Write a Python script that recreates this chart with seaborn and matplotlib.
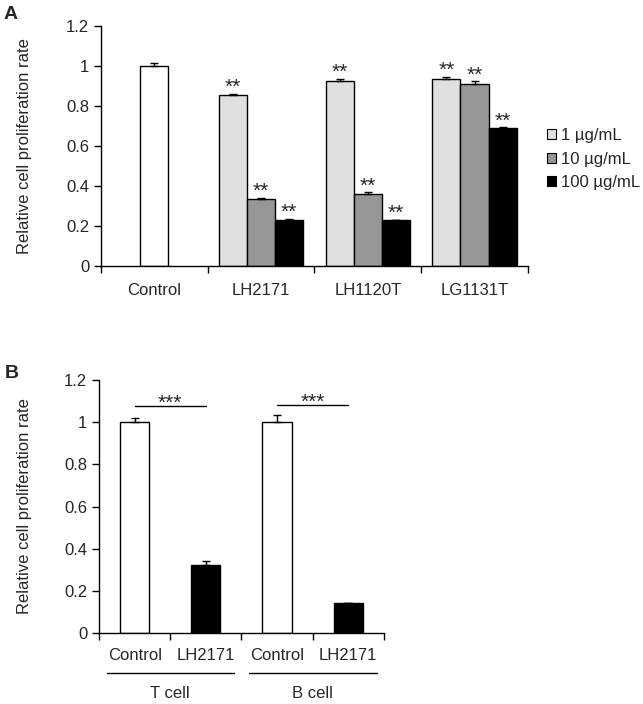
import matplotlib
matplotlib.use("Agg")
import matplotlib.pyplot as plt
from matplotlib.patches import Patch
import numpy as np
import pandas as pd
import seaborn as sns

# ---- data: panel A ----
groups_a = ["Control", "LH2171", "LH1120T", "LG1131T"]
treatments = ["LH2171", "LH1120T", "LG1131T"]
doses = ["1 µg/mL", "10 µg/mL", "100 µg/mL"]
control_mean = [1.0]
control_err = [0.017]
dose1_mean = [0.855, 0.927, 0.933]
dose1_err = [0.006, 0.010, 0.013]
dose10_mean = [0.337, 0.360, 0.912]
dose10_err = [0.005, 0.008, 0.013]
dose100_mean = [0.232, 0.229, 0.688]
dose100_err = [0.004, 0.003, 0.006]
dose_colors = ["#e0e0e0", "#969696", "#000000"]

# ---- data: panel B ----
keys_b = ["T_Control", "T_LH2171", "B_Control", "B_LH2171"]
labels_b = ["Control", "LH2171", "Control", "LH2171"]
cells_b = ["T cell", "B cell"]
mean_b = [1.0, 0.32, 1.0, 0.14]
err_b = [0.018, 0.022, 0.035, 0.003]
colors_b = ["white", "black", "white", "black"]

sns.set_theme(style="ticks")
plt.rcParams["font.family"] = ["Liberation Sans", "DejaVu Sans"]
plt.rcParams["font.size"] = 12
plt.rcParams["xtick.labelsize"] = 12
plt.rcParams["ytick.labelsize"] = 12

fig = plt.figure(figsize=(6.43, 7.04), dpi=100)
ax_a = fig.add_axes([0.157, 0.622, 0.664, 0.341])
ax_b = fig.add_axes([0.154, 0.101, 0.443, 0.359])

# ---- panel A ----
df_a = pd.DataFrame({
    "group": treatments * 3,
    "dose": [d for d in doses for _ in treatments],
    "value": dose1_mean + dose10_mean + dose100_mean,
})
sns.barplot(data=df_a, x="group", y="value", hue="dose", order=groups_a,
            hue_order=doses, palette=dose_colors, width=0.79, errorbar=None,
            edgecolor="black", linewidth=1, saturation=1, legend=False, ax=ax_a)
ctrl_df = pd.DataFrame({"group": ["Control"], "value": control_mean})
sns.barplot(data=ctrl_df, x="group", y="value", order=groups_a, color="white",
            width=0.263, errorbar=None, edgecolor="black", linewidth=1,
            saturation=1, ax=ax_a)

err_sets = [dose1_err, dose10_err, dose100_err]
for cont, errs in zip(ax_a.containers[:3], err_sets):
    xs = [p.get_x() + p.get_width() / 2 for p in cont]
    ys = [p.get_height() for p in cont]
    ax_a.errorbar(xs, ys, yerr=[np.zeros(len(errs)), errs], fmt="none",
                  ecolor="black", elinewidth=1, capsize=3, capthick=1, zorder=1)
    for x, y, e in zip(xs, ys, errs):
        ax_a.annotate("**", (x, y + e), xytext=(0, 0.5), textcoords="offset points",
                      ha="center", va="baseline", fontsize=15)
cont = ax_a.containers[3]
xs = [p.get_x() + p.get_width() / 2 for p in cont]
ax_a.errorbar(xs, control_mean, yerr=[[0], control_err], fmt="none",
              ecolor="black", elinewidth=1, capsize=3, capthick=1, zorder=1)

ax_a.set_ylim(0, 1.2)
ax_a.set_xlim(-0.5, 3.5)
ax_a.set_yticks(np.arange(0, 1.21, 0.2))
ax_a.set_yticklabels(["0", "0.2", "0.4", "0.6", "0.8", "1", "1.2"])
ax_a.set_xticks(range(4))
ax_a.set_xticklabels(groups_a)
ax_a.set_xticks(np.arange(-0.5, 3.6, 1), minor=True)
ax_a.tick_params(axis="x", which="major", length=0, pad=12)
ax_a.tick_params(axis="x", which="minor", length=5, width=1, color="black")
ax_a.tick_params(axis="y", length=5, width=1, color="black")
ax_a.set_xlabel("")
ax_a.set_ylabel("Relative cell proliferation rate", fontsize=12)
ax_a.yaxis.set_label_coords(-0.162, 0.5)

handles = [Patch(facecolor=c, edgecolor="black", linewidth=0.8) for c in dose_colors]
ax_a.legend(handles, doses, loc="center left", bbox_to_anchor=(1.044, 0.446),
            frameon=False, handlelength=0.55, handleheight=0.55, handletextpad=0.3,
            labelspacing=0.5, borderaxespad=0, borderpad=0, fontsize=12)

# ---- panel B ----
df_b = pd.DataFrame({"key": keys_b, "value": mean_b})
sns.barplot(data=df_b, x="key", y="value", hue="key", order=keys_b,
            palette=colors_b, width=0.41, errorbar=None, edgecolor="black",
            linewidth=1, saturation=1, legend=False, ax=ax_b)
xs_b, ys_b = [], []
for cont in ax_b.containers:
    for p in cont:
        xs_b.append(p.get_x() + p.get_width() / 2)
        ys_b.append(p.get_height())
ax_b.errorbar(xs_b, ys_b, yerr=[np.zeros(len(err_b)), err_b], fmt="none",
              ecolor="black", elinewidth=1, capsize=3, capthick=1, zorder=1)

for x0, x1, y in [(0, 1, 1.075), (2, 3, 1.08)]:
    ax_b.plot([x0, x1], [y, y], color="black", lw=1)
    ax_b.annotate("***", ((x0 + x1) / 2, y), xytext=(0, -1.5),
                  textcoords="offset points", ha="center", va="baseline",
                  fontsize=15)

ax_b.set_ylim(0, 1.2)
ax_b.set_xlim(-0.5, 3.5)
ax_b.set_yticks(np.arange(0, 1.21, 0.2))
ax_b.set_yticklabels(["0", "0.2", "0.4", "0.6", "0.8", "1", "1.2"])
ax_b.set_xticks(range(4))
ax_b.set_xticklabels(labels_b)
ax_b.set_xticks(np.arange(-0.5, 3.6, 1), minor=True)
ax_b.tick_params(axis="x", which="major", length=0, pad=11)
ax_b.tick_params(axis="x", which="minor", length=5, width=1, color="black")
ax_b.tick_params(axis="y", length=5, width=1, color="black")
ax_b.set_xlabel("")
ax_b.set_ylabel("Relative cell proliferation rate", fontsize=12)
ax_b.yaxis.set_label_coords(-0.235, 0.5)

trans = ax_b.get_xaxis_transform()
for (x0, x1), name in zip([(-0.39, 1.39), (1.6, 3.4)], cells_b):
    ax_b.plot([x0, x1], [-0.16, -0.16], color="black", lw=1,
              transform=trans, clip_on=False)
    ax_b.text((x0 + x1) / 2, -0.24, name, ha="center", va="center",
              transform=trans, fontsize=12)

for ax in (ax_a, ax_b):
    for s in ("top", "right"):
        ax.spines[s].set_visible(False)
    for s in ("left", "bottom"):
        ax.spines[s].set_color("black")
        ax.spines[s].set_linewidth(1)

fig.text(0.005, 0.979, "A", fontsize=14, fontweight="bold", va="center")
fig.text(0.008, 0.469, "B", fontsize=14, fontweight="bold", va="center")

fig.savefig("out.png", dpi=100, facecolor="white")
